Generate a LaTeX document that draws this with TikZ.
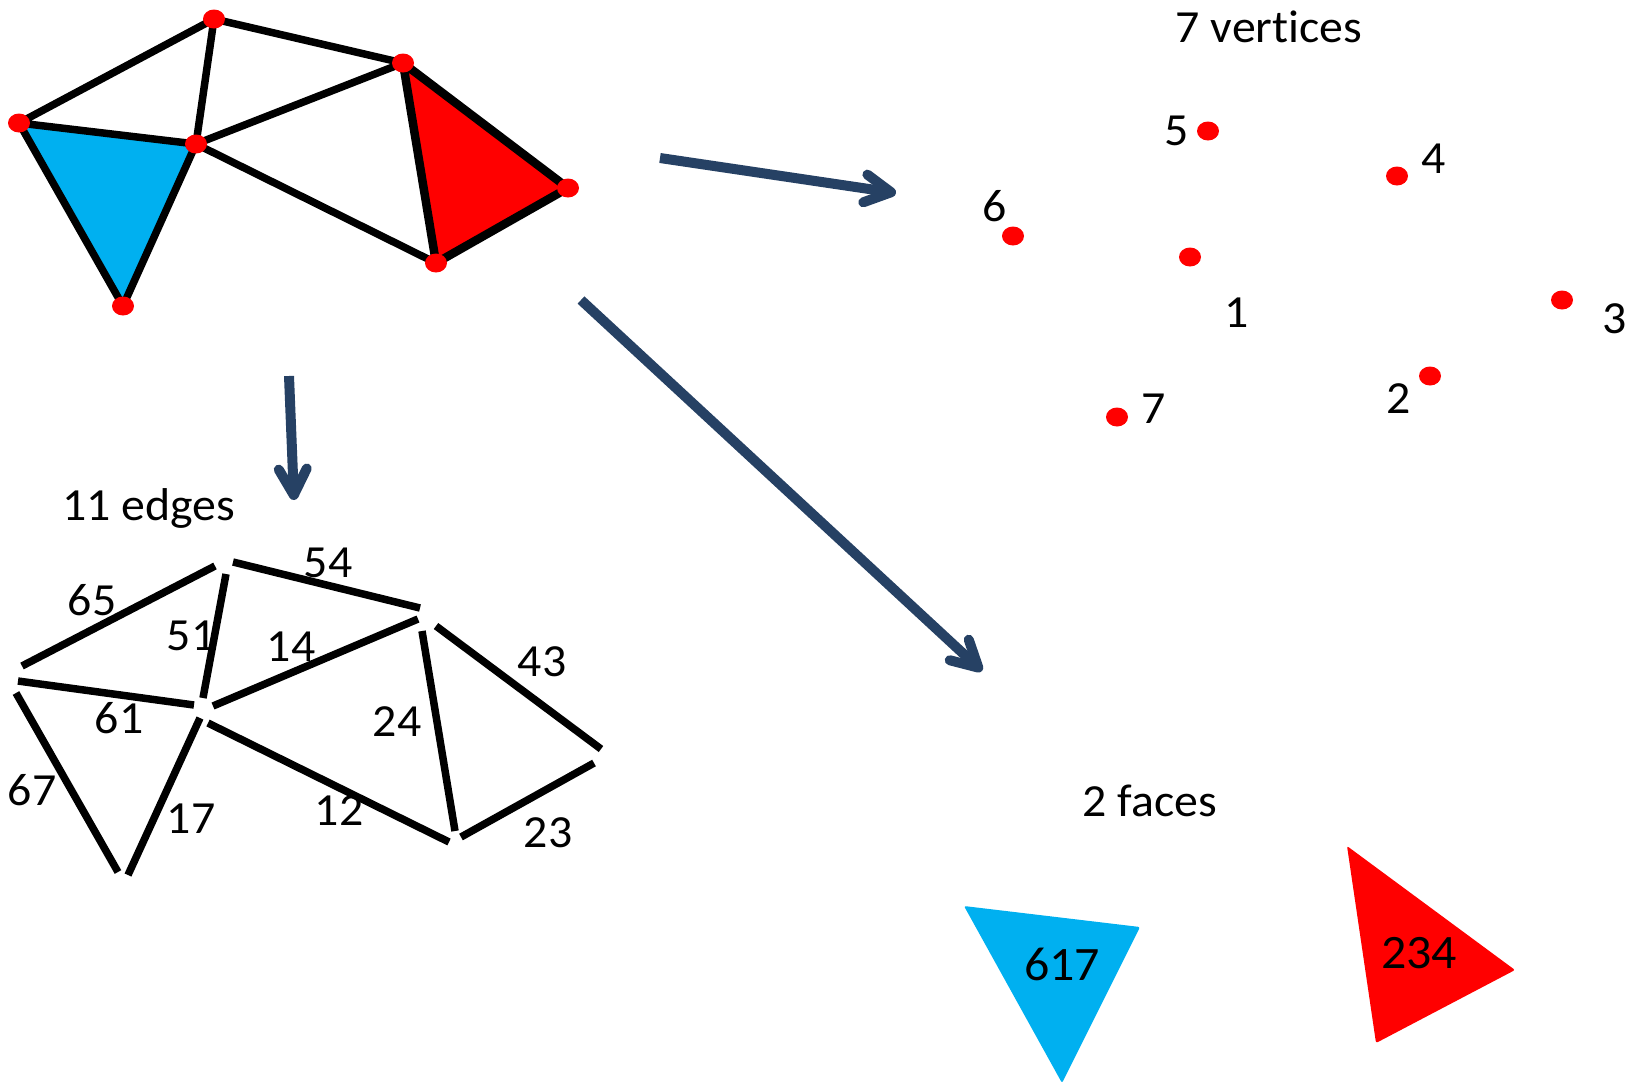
\documentclass[tikz,border=0pt]{standalone}
\usepackage{fontspec}
\setmainfont{Carlito}[FakeStretch=1.04,Ligatures={NoCommon},Contextuals={NoAlternate}]
\usetikzlibrary{arrows.meta,shapes.geometric}
\definecolor{facecyan}{HTML}{00B0F0}
\definecolor{facered}{HTML}{FF0000}
\definecolor{arrowblue}{HTML}{264164}
\begin{document}
\begin{tikzpicture}[x=1pt,y=-1pt,
  gedge/.style={line width=7.5pt,black},
  vdot/.style={ellipse,fill=facered,inner sep=0pt,minimum width=22pt,minimum height=19pt},
  lbl/.style={font=\fontsize{46}{50}\selectfont,inner sep=0pt,anchor=base},
  bigarrow/.style={line width=10pt,arrowblue,-{Straight Barb[length=26pt,width=28pt,round]}}]
\useasboundingbox (0,0) rectangle (1627,1085);

% ---------- top graph ----------
\coordinate (v1) at (196,144);
\coordinate (v2) at (436,263);
\coordinate (v3) at (568,188);
\coordinate (v4) at (403,63);
\coordinate (v5) at (214,19);
\coordinate (v6) at (19,123);
\coordinate (v7) at (123,306);
\fill[facecyan] (v6)--(v1)--(v7)--cycle;
\fill[facered] (v4)--(v2)--(v3)--cycle;
\draw[gedge] (v6)--(v5) (v5)--(v4) (v5)--(v1) (v6)--(v1) (v1)--(v4)
  (v1)--(v2) (v6)--(v7) (v7)--(v1);
\draw[gedge,line width=8.5pt,line join=round] (v4)--(v3)--(v2)--cycle;
\foreach \i in {1,...,7} \node[vdot] (d\i) at (v\i) {};

% ---------- arrows ----------
\coordinate (a1s) at (660,158);
\coordinate (a1e) at (896,193);
\coordinate (a2s) at (289,376);
\coordinate (a2e) at (294,500);
\coordinate (a3s) at (581,300);
\coordinate (a3e) at (982,671);
\draw[bigarrow] (a1s)--(a1e);
\draw[bigarrow] (a2s)--(a2e);
\draw[bigarrow] (a3s)--(a3e);

% ---------- vertices panel ----------
\node[lbl] (tv) at (1269,42) {7 vertices};
\node[vdot] (p1) at (1190,257) {};
\node[vdot] (p2) at (1430,376) {};
\node[vdot] (p3) at (1562,300) {};
\node[vdot] (p4) at (1397,176) {};
\node[vdot] (p5) at (1208,131) {};
\node[vdot] (p6) at (1013,236) {};
\node[vdot] (p7) at (1117,417) {};
\node[lbl] (n1) at (1237,327) {1};
\node[lbl] (n2) at (1399,413) {2};
\node[lbl] (n3) at (1615,333) {3};
\node[lbl] (n4) at (1434,173) {4};
\node[lbl] (n5) at (1177,145) {5};
\node[lbl] (n6) at (995,221) {6};
\node[lbl] (n7) at (1154,423) {7};

% ---------- edges panel ----------
\node[lbl,anchor=base west] (te) at (62,520) {11 edges};
\coordinate (e65a) at (22,666);  \coordinate (e65b) at (215,566);
\coordinate (e54a) at (233,562); \coordinate (e54b) at (420,608);
\coordinate (e51a) at (226,574); \coordinate (e51b) at (203,698);
\coordinate (e14a) at (213,706); \coordinate (e14b) at (418,619);
\coordinate (e61a) at (18,681);  \coordinate (e61b) at (194,705);
\coordinate (e43a) at (436,626); \coordinate (e43b) at (601,749);
\coordinate (e24a) at (422,631); \coordinate (e24b) at (455,831);
\coordinate (e67a) at (16,693);  \coordinate (e67b) at (118,872);
\coordinate (e17a) at (200,718); \coordinate (e17b) at (128,875);
\coordinate (e12a) at (208,723); \coordinate (e12b) at (449,842);
\coordinate (e23a) at (461,837); \coordinate (e23b) at (594,763);
\foreach \e in {65,54,51,14,61,43,24,67,17,12,23}
  \draw[gedge] (e\e a)--(e\e b);
\node[lbl] (l65) at (92,615) {65};
\node[lbl] (l54) at (328,577) {54};
\node[lbl] (l51) at (191,650) {51};
\node[lbl] (l14) at (291,661) {14};
\node[lbl] (l61) at (119,733) {61};
\node[lbl] (l43) at (542,676) {43};
\node[lbl] (l24) at (397,736) {24};
\node[lbl] (l67) at (32,805) {67};
\node[lbl] (l17) at (191,833) {17};
\node[lbl] (l12) at (339,825) {12};
\node[lbl] (l23) at (548,847) {23};

% ---------- faces panel ----------
\node[lbl] (tf) at (1150,816) {2 faces};
\coordinate (f6) at (964,906);
\coordinate (f1) at (1140,927);
\coordinate (f7) at (1062,1083);
\coordinate (f4) at (1347,846);
\coordinate (f3) at (1515,970);
\coordinate (f2) at (1376,1043);
\fill[facecyan,rounded corners=2pt] (f6)--(f1)--(f7)--cycle;
\fill[facered,rounded corners=2pt] (f4)--(f3)--(f2)--cycle;
\node[lbl,font=\fontsize{48}{52}\selectfont] (l617) at (1062,980) {617};
\node[lbl,font=\fontsize{48}{52}\selectfont] (l234) at (1419,968) {234};
\end{tikzpicture}
\end{document}
